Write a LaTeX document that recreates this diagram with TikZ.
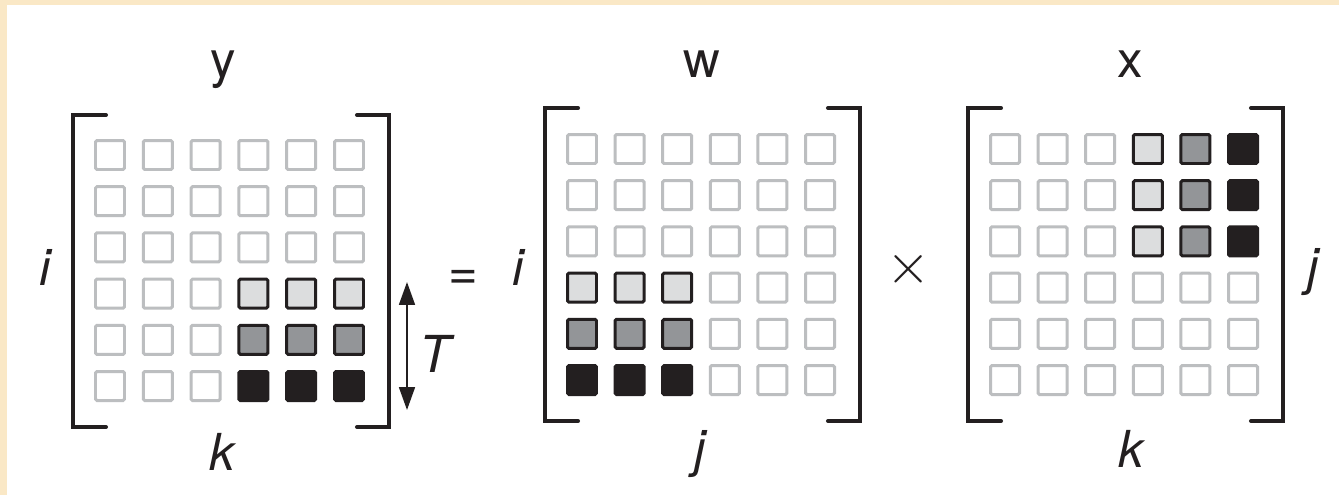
\documentclass[tikz,border=0pt]{standalone}
\usepackage{fontspec}
\setsansfont{TeX Gyre Heros}
\usepackage{xcolor}
\usepackage{graphicx}
\usepackage{tikz}
\usetikzlibrary{positioning, calc, arrows.meta}
\definecolor{ink}{HTML}{231F20}
\definecolor{rim}{HTML}{BCBEC0}
\definecolor{pale}{HTML}{DCDDDE}
\definecolor{midgray}{HTML}{939598}
\definecolor{paper}{HTML}{FAE8C6}

\begin{document}
\begin{tikzpicture}[x=0.02cm, y=-0.02cm,
  cell/.style={draw, rounded corners=0.8pt, line width=1.7pt, minimum size=0.58cm, inner sep=0pt},
  emptycell/.style={cell, draw=rim, fill=white},
  lightcell/.style={cell, draw=ink, fill=pale},
  midcell/.style={cell, draw=ink, fill=midgray},
  darkcell/.style={cell, draw=ink, fill=ink},
  bracket/.style={ink, line width=2.3pt, line cap=round},
  lab/.style={font=\sffamily\fontsize{29}{30}\selectfont, text=ink, inner sep=0pt, anchor=base},
  idx/.style={lab, font=\sffamily\itshape\fontsize{29}{30}\selectfont},
  span/.style={ink, line width=1.2pt, {Triangle[length=13pt,width=9pt]}-{Triangle[length=13pt,width=9pt]}}]
  % Frame
  \fill[white] (0,0) rectangle (1339,495);
  \fill[paper] (0,0) rectangle (1339,5);
  \fill[paper] (0,0) rectangle (7,495);
  \useasboundingbox (0,0) rectangle (1339,495);
  % y
  \foreach \r/\sty in {0/emptycell,1/emptycell,2/emptycell,3/lightcell,4/midcell,5/darkcell}
    \foreach \c in {0,...,5} {
      \ifnum\c<3 \def\look{emptycell}\else\let\look\sty\fi
      \node[\look] (y-\r-\c) at ({110+47.8*\c},{155+46.2*\r}) {};
    }
  % w
  \foreach \r/\sty in {0/emptycell,1/emptycell,2/emptycell,3/lightcell,4/midcell,5/darkcell}
    \foreach \c in {0,...,5} {
      \ifnum\c>2 \def\look{emptycell}\else\let\look\sty\fi
      \node[\look] (w-\r-\c) at ({582+47.6*\c},{149+46.2*\r}) {};
    }
  % x
  \foreach \c/\sty in {0/emptycell,1/emptycell,2/emptycell,3/lightcell,4/midcell,5/darkcell}
    \foreach \r in {0,...,5} {
      \ifnum\r>2 \def\look{emptycell}\else\let\look\sty\fi
      \node[\look] (x-\r-\c) at ({1005+47.6*\c},{149+46.2*\r}) {};
    }
  % Brackets
  \foreach \lx/\rx/\ty/\by in {73/389/115/427, 545/860/108/421, 968/1283/108/421} {
    \draw[bracket] (\lx+33,\ty) -- (\lx,\ty) -- (\lx,\by) -- (\lx+33,\by);
    \draw[bracket] (\rx-32,\ty) -- (\rx,\ty) -- (\rx,\by) -- (\rx-32,\by);
  }
  % Labels
  \node[lab] (ylab) at (223,77) {y};
  \node[lab] (wlab) at (702,77) {w};
  \node[lab] (xlab) at (1130,77) {x};
  \node[idx] (yi) at (45,285) {i};
  \node[idx] (yk) at (222,470) {k};
  \node[idx] (wi) at (518,285) {i};
  \node[idx] (wj) at (700,466) {j};
  \node[idx] (xj) at (1313,284) {j};
  \node[idx] (xk) at (1131,467) {k};
  \node[lab] (eq) at (463,289) {=};
  \node[lab] (times) at (909,283) {\scalebox{1.3}{$\times$}};
  % T span
  \coordinate (t-top) at (407,282);
  \coordinate (t-bot) at (407,410);
  \draw[span] (t-top) -- (t-bot);
  \node[idx] (tlab) at (435,372) {T};
\end{tikzpicture}
\end{document}
